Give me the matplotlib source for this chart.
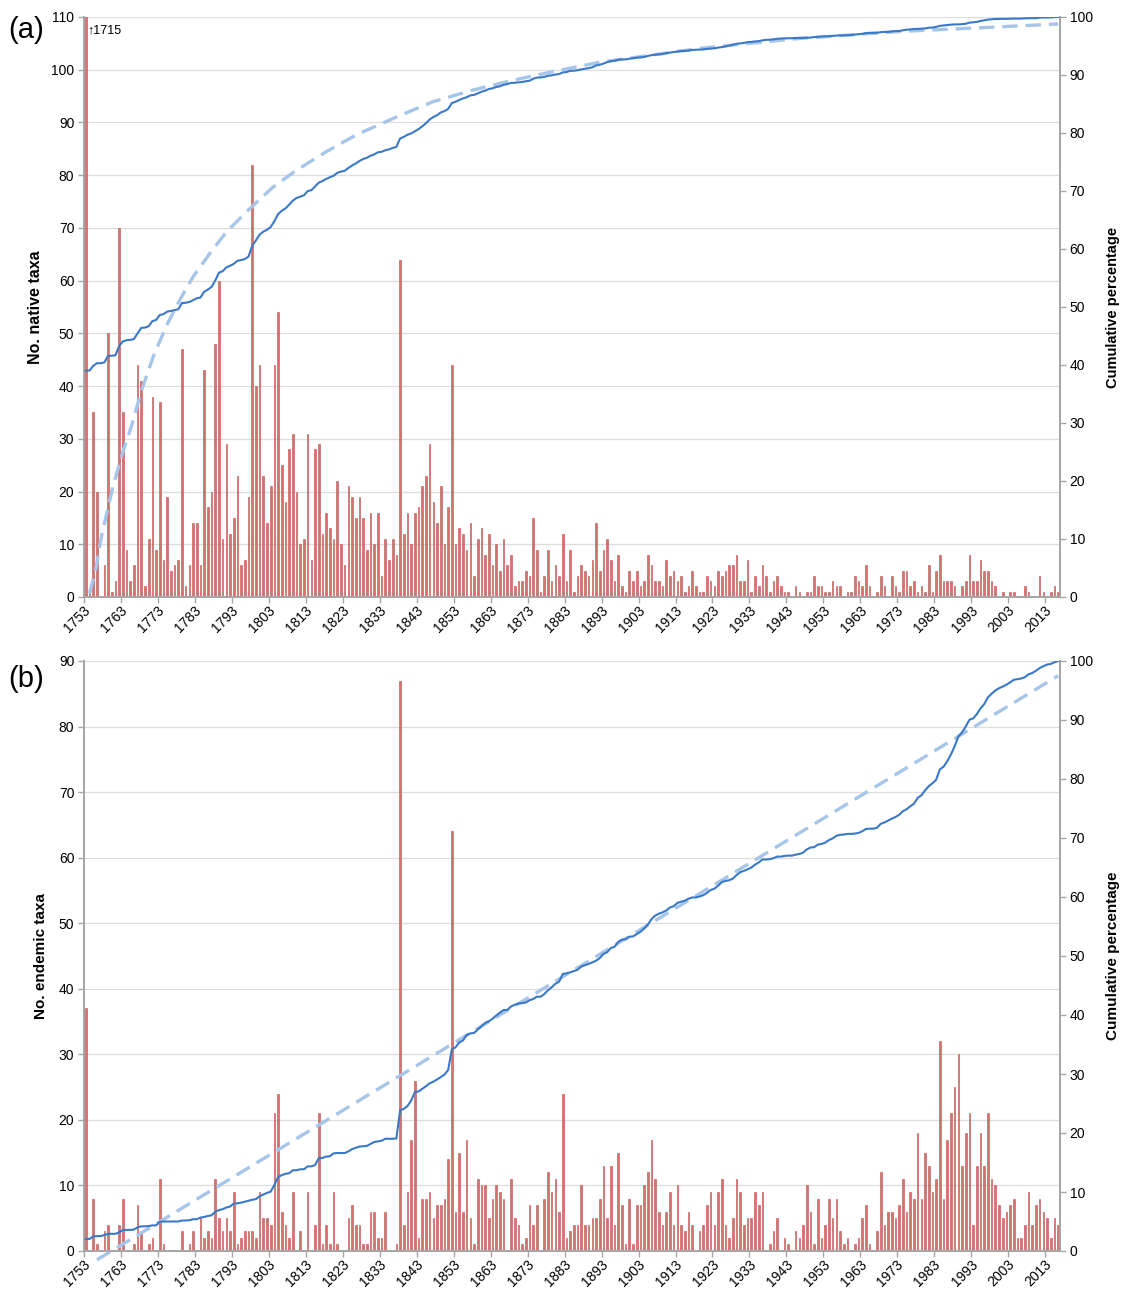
import numpy as np
import matplotlib
matplotlib.use("Agg")
import matplotlib.pyplot as plt

plt.rcParams['font.family'] = ['Liberation Sans', 'DejaVu Sans']

# Years of description, one category per year
years = np.arange(1753, 2017)

# (a) native taxa described per year (1753 value exceeds the axis)
native = [
    1715,
    1, 35, 20, 0, 6, 50, 1, 3, 70, 35,
    9, 3, 6, 44, 41, 2, 11, 38, 9, 37,
    7, 19, 5, 6, 7, 47, 2, 6, 14, 14,
    6, 43, 17, 20, 48, 60, 11, 29, 12, 15,
    23, 6, 7, 19, 82, 40, 44, 23, 14, 21,
    44, 54, 25, 18, 28, 31, 20, 10, 11, 31,
    7, 28, 29, 12, 16,
    13, 11, 22, 10, 6, 21, 19, 15, 19, 15,
    9, 16, 10, 16, 4, 11, 7, 11, 8, 64,
    12, 16, 10, 16, 17, 21, 23, 29, 18, 14,
    21, 10, 17, 44, 10, 13, 12, 9, 14, 4,
    11, 13, 8, 12, 6, 10, 5, 11, 6, 8,
    2, 3, 3, 5, 4, 15, 9, 1, 4, 9,
    3, 6, 4, 12, 3, 9,
    1, 4, 6, 5, 4, 7, 14, 5, 9, 11,
    7, 3, 8, 2, 1, 5, 3, 5, 2, 3,
    8, 6, 3, 3, 2, 7, 4, 5, 3, 4,
    1, 2, 5, 2, 1, 1, 4, 3, 2, 5,
    4, 5, 6, 6, 8, 3, 3, 7, 1, 4,
    2, 6, 4, 1, 3, 4, 2, 1, 1, 0,
    2,
    1, 0, 1, 1, 4, 2, 2, 1, 1, 3,
    2, 2, 0, 1, 1, 4, 3, 2, 6, 2,
    0, 1, 4, 2, 0, 4, 2, 1, 5, 5,
    2, 3, 1, 2, 1, 6, 1, 5, 8, 3,
    3, 3, 2, 0, 2, 3, 8, 3, 3, 7,
    5, 5, 3, 2, 0, 1, 0, 1, 1, 0,
    0, 2, 1, 0, 0, 4, 1, 0, 1, 2,
    1,
]

# (b) endemic taxa described per year
endemic = [
    37, 0, 8, 1, 0, 3, 4, 0, 0, 4,
    8, 0, 0, 1, 7, 3, 0, 1, 2, 0,
    11, 1, 0, 0, 0, 0, 3, 0, 1, 3,
    0, 5, 2, 3, 2, 11, 5, 3, 5, 3,
    9, 1, 2, 3, 3, 3, 2, 9, 5, 5,
    4, 21, 24, 6, 4, 2, 9, 0, 3, 0,
    9, 0, 4, 21, 1, 4,
    1, 9, 1, 0, 0, 5, 7, 4, 4, 1,
    1, 6, 6, 2, 2, 6, 0, 0, 1, 87,
    4, 9, 17, 26, 2, 8, 8, 9, 5, 7,
    7, 8, 14, 64, 6, 15, 6, 17, 5, 1,
    11, 10, 10, 5, 8, 10, 9, 8, 0, 11,
    5, 4, 1, 2, 7, 4, 7, 0, 8, 12,
    9, 11, 6, 24, 2, 3,
    4, 4, 10, 4, 4, 5, 5, 8, 13, 5,
    13, 4, 15, 7, 1, 8, 1, 7, 7, 10,
    12, 17, 11, 6, 4, 6, 9, 4, 10, 4,
    3, 6, 4, 0, 3, 4, 7, 9, 4, 9,
    11, 4, 2, 5, 11, 9, 4, 5, 5, 9,
    7, 9, 0, 1, 3, 5, 0, 2, 1, 0,
    3, 2, 4, 10, 6,
    1, 8, 2, 4, 8, 5, 8, 3, 1, 2,
    0, 1, 2, 5, 7, 1, 0, 3, 12, 4,
    6, 6, 5, 7, 11, 6, 9, 8, 18, 8,
    15, 13, 9, 11, 32, 8, 17, 21, 25, 30,
    13, 18, 21, 4, 13, 18, 13, 21, 11, 10,
    7, 5, 6, 7, 8, 2, 2, 4, 9, 4,
    7, 8, 6, 5, 2, 5, 4,
]

# Fitted trend of the cumulative percentage (year, %)
trend_a_year = [1754.0, 1755.8, 1757.2, 1760.3, 1763.0, 1765.3, 1768.0, 1771.2,
                1774.9, 1778.4, 1782.0, 1786.6, 1791.1, 1797.4, 1803.7, 1810.0,
                1818.1, 1826.2, 1836.1, 1846.9, 1857.7, 1868.5, 1880.3, 1892.0,
                1919.0, 1946.0, 1973.0, 2000.0, 2016.0]
trend_a_pct = [0.6, 5.2, 10.4, 19.0, 25.0, 29.4, 35.5, 41.4,
               46.9, 51.2, 55.2, 59.3, 63.0, 67.0, 70.7, 73.6,
               76.8, 79.7, 82.5, 85.4, 87.4, 89.1, 90.7, 92.2,
               94.6, 96.3, 97.5, 98.3, 98.8]
trend_b_year = [1756.0, 2016.0]
trend_b_pct = [-1.5, 97.5]

tick_years = list(range(1753, 2017, 10))

BAR_FACE = '#D27370'
BAR_EDGE = '#C0504D'
CUM_COLOR = '#3A78C8'
TREND_COLOR = '#A7C5E8'
AXIS_GREY = '#A6A6A6'
GRID_GREY = '#DDDDDD'

fig = plt.figure(figsize=(11.26, 12.92), dpi=100)
W, H = 1126, 1292


def make_panel(top, bottom, counts, ymax, ylabel, ylab_x, ylab_size, rlab_size,
               tr_year, tr_pct, letter, letter_y):
    left, right = 84, 1060
    ax = fig.add_axes([left / W, 1 - bottom / H, (right - left) / W, (bottom - top) / H])
    x = years - years[0]
    ax.bar(x, counts, width=0.45, color=BAR_FACE, edgecolor=BAR_EDGE, linewidth=0.4, zorder=2)
    ax.set_xlim(-0.5, len(years) - 0.5)
    ax.set_ylim(0, ymax)
    ax.set_yticks(np.arange(0, ymax + 1, 10))
    ax.yaxis.grid(True, color=GRID_GREY, linewidth=0.9)
    ax.set_axisbelow(True)

    # category tick marks at block boundaries, year labels under them
    ax.set_xticks([y - years[0] - 0.5 for y in tick_years])
    ax.set_xticklabels([])
    ax.set_xticks([y - years[0] + 0.6 for y in tick_years], minor=True)
    ax.set_xticklabels([str(y) for y in tick_years], minor=True, rotation=45,
                       ha='right', va='center', rotation_mode='anchor', fontsize=10)
    ax.tick_params(axis='x', which='major', length=4, color=AXIS_GREY, width=1)
    ax.tick_params(axis='x', which='minor', length=0, pad=8)
    ax.tick_params(axis='y', length=4, color=AXIS_GREY, width=1, labelsize=10, pad=3)

    for side in ('left', 'bottom', 'right'):
        ax.spines[side].set_color(AXIS_GREY)
        ax.spines[side].set_linewidth(1.3)
    ax.spines['top'].set_visible(False)

    ax.set_ylabel(ylabel, fontsize=ylab_size, fontweight='bold')
    ax.yaxis.set_label_coords(ylab_x, 0.5)

    ax2 = ax.twinx()
    cum = np.cumsum(counts) / np.sum(counts) * 100
    ax2.plot(x, cum, color=CUM_COLOR, linewidth=1.5, zorder=3)
    ax2.plot(np.array(tr_year) - years[0], tr_pct, color=TREND_COLOR, linewidth=2.4,
             dashes=(4.6, 2.4), zorder=2, clip_on=False)
    ax2.set_ylim(0, 100)
    ax2.set_yticks(np.arange(0, 101, 10))
    ax2.tick_params(axis='y', length=4, color=AXIS_GREY, width=1, labelsize=10, pad=3)
    for side in ('left', 'bottom', 'right'):
        ax2.spines[side].set_color(AXIS_GREY)
        ax2.spines[side].set_linewidth(1.3)
    ax2.spines['top'].set_visible(False)
    ax2.set_ylabel('Cumulative percentage', fontsize=rlab_size, fontweight='bold')
    ax2.yaxis.set_label_coords(1.047, 0.5)

    fig.text(8 / W, 1 - letter_y / H, letter, fontsize=21, ha='left', va='center')
    return ax, ax2


ax_a, _ = make_panel(17, 597, native, 110, 'No. native taxa', -0.042, 11.5, 10.5,
                     trend_a_year, trend_a_pct, '(a)', 30)
ax_a.text(0.35, 107.5, '\u21911715', fontsize=9, ha='left', va='center', zorder=5)

make_panel(661, 1251, endemic, 90, 'No. endemic taxa', -0.037, 11, 11,
           trend_b_year, trend_b_pct, '(b)', 679)

fig.savefig('out.png', dpi=100)
